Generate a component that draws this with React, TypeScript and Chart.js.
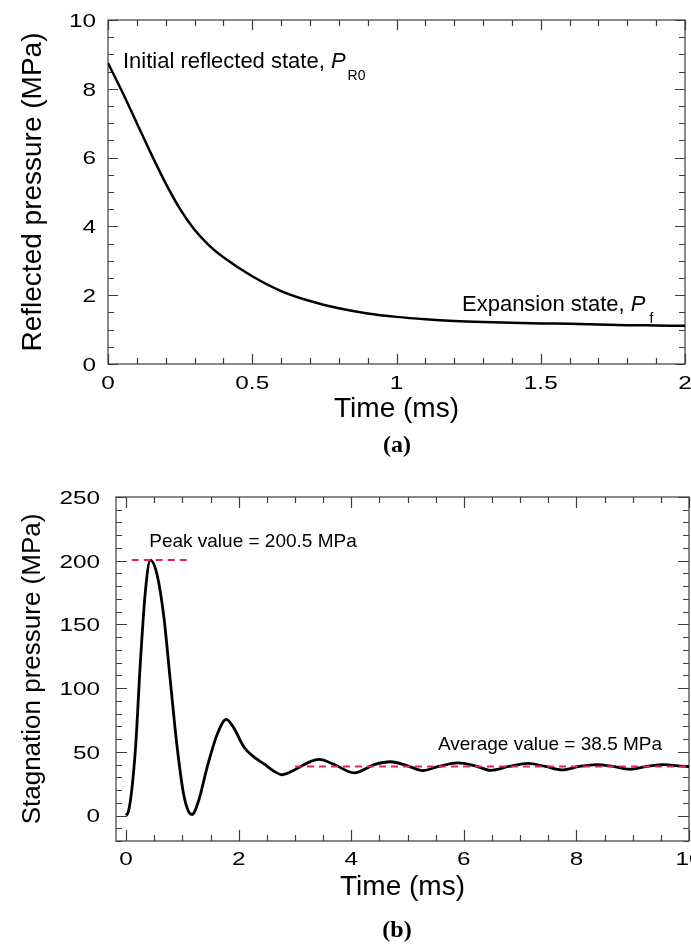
import React, { useEffect, useRef } from 'react';
import { Chart, registerables } from 'chart.js';
Chart.register(...registerables);

// ---------- Data (a) ----------
const timeA = [0, 0.05, 0.1, 0.15, 0.2, 0.25, 0.3, 0.35, 0.4, 0.5, 0.6, 0.7, 0.8, 0.9, 1.0, 1.1, 1.2, 1.3, 1.4, 1.5, 1.6, 1.7, 1.8, 1.9, 2.0];
const pressureA = [8.75, 7.9, 7.0, 6.1, 5.25, 4.5, 3.9, 3.45, 3.1, 2.55, 2.12, 1.83, 1.62, 1.47, 1.37, 1.3, 1.25, 1.22, 1.2, 1.18, 1.17, 1.15, 1.13, 1.12, 1.11];
const xTicksA = [0, 0.5, 1, 1.5, 2];
const xTickLabelsA = ['0', '0.5', '1', '1.5', '2'];
const yTicksA = [0, 2, 4, 6, 8, 10];
const yTickLabelsA = ['0', '2', '4', '6', '8', '10'];

// ---------- Data (b) ----------
const timeB = [0, 0.04, 0.1, 0.17, 0.25, 0.34, 0.43, 0.55, 0.67, 0.78, 0.9, 1.02, 1.1, 1.17, 1.29, 1.44, 1.62, 1.78, 1.91, 2.09, 2.24, 2.45, 2.62, 2.77, 2.98, 3.1, 3.28, 3.43, 3.7, 4.05, 4.41, 4.7, 5.0, 5.27, 5.55, 5.9, 6.2, 6.48, 6.8, 7.14, 7.45, 7.74, 8.05, 8.36, 8.65, 8.95, 9.25, 9.55, 9.8, 10.0];
const pressureB = [0, 3, 20, 55, 118, 175, 200.5, 189, 156, 108, 56, 17, 4, 0.8, 12, 38, 64, 75.5, 69, 54, 47, 40.5, 35, 32, 35.5, 38.5, 42.5, 44, 40, 33.5, 40, 42.2, 39, 35.3, 38.5, 41.3, 39, 35.5, 38.5, 41, 38.5, 35.8, 38.5, 40, 38.5, 36.3, 38.5, 40, 39, 38.3];
const xTicksB = [0, 2, 4, 6, 8, 10];
const xTickLabelsB = ['0', '2', '4', '6', '8', '10'];
const yTicksB = [0, 50, 100, 150, 200, 250];
const yTickLabelsB = ['0', '50', '100', '150', '200', '250'];
const peakLineX = [0.1, 1.15];
const peakValue = 200.5;
const avgLineX = [3, 10];
const avgValue = 38.5;

const SANS = '"Liberation Sans", Arial, Helvetica, sans-serif';
const SERIF = '"Liberation Serif", "Times New Roman", serif';
const DASH_COLOR = '#E0245E';

type Seg = { text: string; font: string; dx?: number; dy?: number };
type Ann = { x: number; y: number; segs: Seg[] };

function makeDecor(o: {
  xMinorStep: number; yMinorStep: number;
  xMajor: number[]; yMajor: number[];
  xLabels: string[]; yLabels: string[];
  majorLen: number; minorLen: number;
  yLabelGap: number; xLabelBaseline: number;
  caption: string; captionX: number; captionY: number;
  anns: Ann[];
}) {
  return {
    id: 'decor',
    beforeDatasetsDraw(chart: any) {
      const { ctx, chartArea } = chart;
      const { left, right, top, bottom } = chartArea;
      const xs = chart.scales.x;
      const ys = chart.scales.y;
      ctx.save();
      ctx.strokeStyle = '#3c3c3c';
      ctx.lineWidth = 1.2;
      ctx.strokeRect(left, top, right - left, bottom - top);
      const isMajor = (v: number, arr: number[]) => arr.some((a) => Math.abs(a - v) < 1e-6);
      ctx.beginPath();
      const x0 = Math.ceil(xs.min / o.xMinorStep - 1e-6);
      const x1 = Math.floor(xs.max / o.xMinorStep + 1e-6);
      for (let i = x0; i <= x1; i++) {
        const v = i * o.xMinorStep;
        if (v < -1e-6) continue;
        const px = Math.round(xs.getPixelForValue(v)) + 0.5;
        const len = isMajor(v, o.xMajor) ? o.majorLen : o.minorLen;
        ctx.moveTo(px, bottom); ctx.lineTo(px, bottom - len);
        ctx.moveTo(px, top); ctx.lineTo(px, top + len);
      }
      const y0 = Math.ceil(ys.min / o.yMinorStep - 1e-6);
      const y1 = Math.floor(ys.max / o.yMinorStep + 1e-6);
      for (let i = y0; i <= y1; i++) {
        const v = i * o.yMinorStep;
        const py = Math.round(ys.getPixelForValue(v)) + 0.5;
        const len = isMajor(v, o.yMajor) ? o.majorLen : o.minorLen;
        ctx.moveTo(left, py); ctx.lineTo(left + len, py);
        ctx.moveTo(right, py); ctx.lineTo(right - len, py);
      }
      ctx.stroke();

      // tick labels (horizontally stretched like the original)
      const sx = 1.28;
      ctx.fillStyle = '#000';
      ctx.font = `19px ${SANS}`;
      ctx.textBaseline = 'alphabetic';
      o.xMajor.forEach((v, i) => {
        const px = xs.getPixelForValue(v);
        const w = ctx.measureText(o.xLabels[i]).width * sx;
        ctx.save();
        ctx.translate(px - w / 2, o.xLabelBaseline);
        ctx.scale(sx, 1);
        ctx.fillText(o.xLabels[i], 0, 0);
        ctx.restore();
      });
      o.yMajor.forEach((v, i) => {
        const py = ys.getPixelForValue(v);
        const w = ctx.measureText(o.yLabels[i]).width * sx;
        ctx.save();
        ctx.translate(left - o.yLabelGap - w, py + 6.8);
        ctx.scale(sx, 1);
        ctx.fillText(o.yLabels[i], 0, 0);
        ctx.restore();
      });
      ctx.restore();
    },
    afterDraw(chart: any) {
      const { ctx } = chart;
      const xs = chart.scales.x;
      const ys = chart.scales.y;
      ctx.save();
      ctx.fillStyle = '#000';
      ctx.textBaseline = 'alphabetic';
      ctx.textAlign = 'left';
      o.anns.forEach((a) => {
        let x = xs.getPixelForValue(a.x);
        const y = ys.getPixelForValue(a.y);
        a.segs.forEach((s) => {
          ctx.font = s.font;
          ctx.fillText(s.text, x + (s.dx || 0), y + (s.dy || 0));
          x += ctx.measureText(s.text).width + (s.dx || 0);
        });
      });
      ctx.font = `bold 24px ${SERIF}`;
      ctx.textAlign = 'center';
      ctx.fillText(o.caption, o.captionX, o.captionY);
      ctx.restore();
    },
  };
}

function scaleOpts(axisW: number, axisH: number, min: number, max: number, xmin: number, xmax: number, yTitle: string, yTitleSize: number) {
  return {
    x: {
      type: 'linear' as const,
      position: 'bottom' as const,
      min: xmin,
      max: xmax,
      afterFit: (s: any) => { s.height = axisH; },
      ticks: { display: false },
      grid: { display: false, drawTicks: false },
      border: { display: false },
      title: {
        display: true,
        text: 'Time (ms)',
        color: '#000',
        font: { family: SANS, size: 28, lineHeight: 1 },
        padding: { top: 0, bottom: 0 },
      },
    },
    y: {
      type: 'linear' as const,
      position: 'left' as const,
      min,
      max,
      afterFit: (s: any) => { s.width = axisW; },
      ticks: { display: false },
      grid: { display: false, drawTicks: false },
      border: { display: false },
      title: {
        display: true,
        text: yTitle,
        color: '#000',
        font: { family: SANS, size: yTitleSize, lineHeight: 1 },
        padding: { top: 33 - yTitleSize / 2, bottom: 0 },
      },
    },
  };
}

export default function App() {
  const refA = useRef<HTMLCanvasElement>(null);
  const refB = useRef<HTMLCanvasElement>(null);

  useEffect(() => {
    const chartA = new Chart(refA.current as HTMLCanvasElement, {
      type: 'line',
      data: {
        datasets: [
          {
            data: timeA.map((t, i) => ({ x: t, y: pressureA[i] })),
            borderColor: '#000',
            borderWidth: 2.5,
            pointRadius: 0,
            cubicInterpolationMode: 'monotone',
            fill: false,
          },
        ],
      },
      options: {
        responsive: false,
        animation: false,
        events: [],
        layout: { padding: { left: 0, right: 6, top: 20, bottom: 47 } },
        scales: scaleOpts(108, 59, 0, 10, 0, 2, 'Reflected pressure (MPa)', 28),
        plugins: { legend: { display: false }, tooltip: { enabled: false } },
      },
      plugins: [
        makeDecor({
          xMinorStep: 0.1, yMinorStep: 0.5,
          xMajor: xTicksA, yMajor: yTicksA,
          xLabels: xTickLabelsA, yLabels: yTickLabelsA,
          majorLen: 10, minorLen: 6,
          yLabelGap: 12, xLabelBaseline: 389,
          caption: '(a)', captionX: 397, captionY: 452,
          anns: [
            {
              x: 0.052, y: 8.6,
              segs: [
                { text: 'Initial reflected state, ', font: `22px ${SANS}` },
                { text: 'P', font: `italic 22px ${SANS}` },
                { text: 'R0', font: `14px ${SANS}`, dx: 2, dy: 12 },
              ],
            },
            {
              x: 1.227, y: 1.54,
              segs: [
                { text: 'Expansion state, ', font: `22px ${SANS}` },
                { text: 'P', font: `italic 22px ${SANS}` },
                { text: 'f', font: `14px ${SANS}`, dx: 4, dy: 12 },
              ],
            },
          ],
        }),
      ],
    } as any);

    const chartB = new Chart(refB.current as HTMLCanvasElement, {
      type: 'line',
      data: {
        datasets: [
          {
            data: peakLineX.map((t) => ({ x: t, y: peakValue })),
            borderColor: DASH_COLOR,
            borderWidth: 2,
            borderDash: [7, 5],
            pointRadius: 0,
            fill: false,
          },
          {
            data: avgLineX.map((t) => ({ x: t, y: avgValue })),
            borderColor: DASH_COLOR,
            borderWidth: 2,
            borderDash: [7, 5],
            pointRadius: 0,
            fill: false,
          },
          {
            data: timeB.map((t, i) => ({ x: t, y: pressureB[i] })),
            borderColor: '#000',
            borderWidth: 2.8,
            pointRadius: 0,
            cubicInterpolationMode: 'monotone',
            fill: false,
          },
        ],
      },
      options: {
        responsive: false,
        animation: false,
        events: [],
        layout: { padding: { left: 0, right: 2, top: 27, bottom: 50 } },
        scales: scaleOpts(116, 60, -20, 250, -0.18, 10, 'Stagnation pressure (MPa)', 26),
        plugins: { legend: { display: false }, tooltip: { enabled: false } },
      },
      plugins: [
        makeDecor({
          xMinorStep: 0.5, yMinorStep: 10,
          xMajor: xTicksB, yMajor: yTicksB,
          xLabels: xTickLabelsB, yLabels: yTickLabelsB,
          majorLen: 11, minorLen: 6,
          yLabelGap: 16, xLabelBaseline: 395,
          caption: '(b)', captionX: 397, captionY: 467,
          anns: [
            { x: 0.41, y: 211, segs: [{ text: 'Peak value = 200.5 MPa', font: `19px ${SANS}` }] },
            { x: 5.54, y: 51.8, segs: [{ text: 'Average value = 38.5 MPa', font: `19px ${SANS}` }] },
          ],
        }),
      ],
    } as any);

    return () => {
      chartA.destroy();
      chartB.destroy();
    };
  }, []);

  return (
    <div style={{ position: 'absolute', left: 0, top: 0, width: 691, height: 951, background: '#fff' }}>
      <canvas ref={refA} width={691} height={470} style={{ position: 'absolute', left: 0, top: 0, width: 691, height: 470 }} />
      <canvas ref={refB} width={691} height={481} style={{ position: 'absolute', left: 0, top: 470, width: 691, height: 481 }} />
    </div>
  );
}
